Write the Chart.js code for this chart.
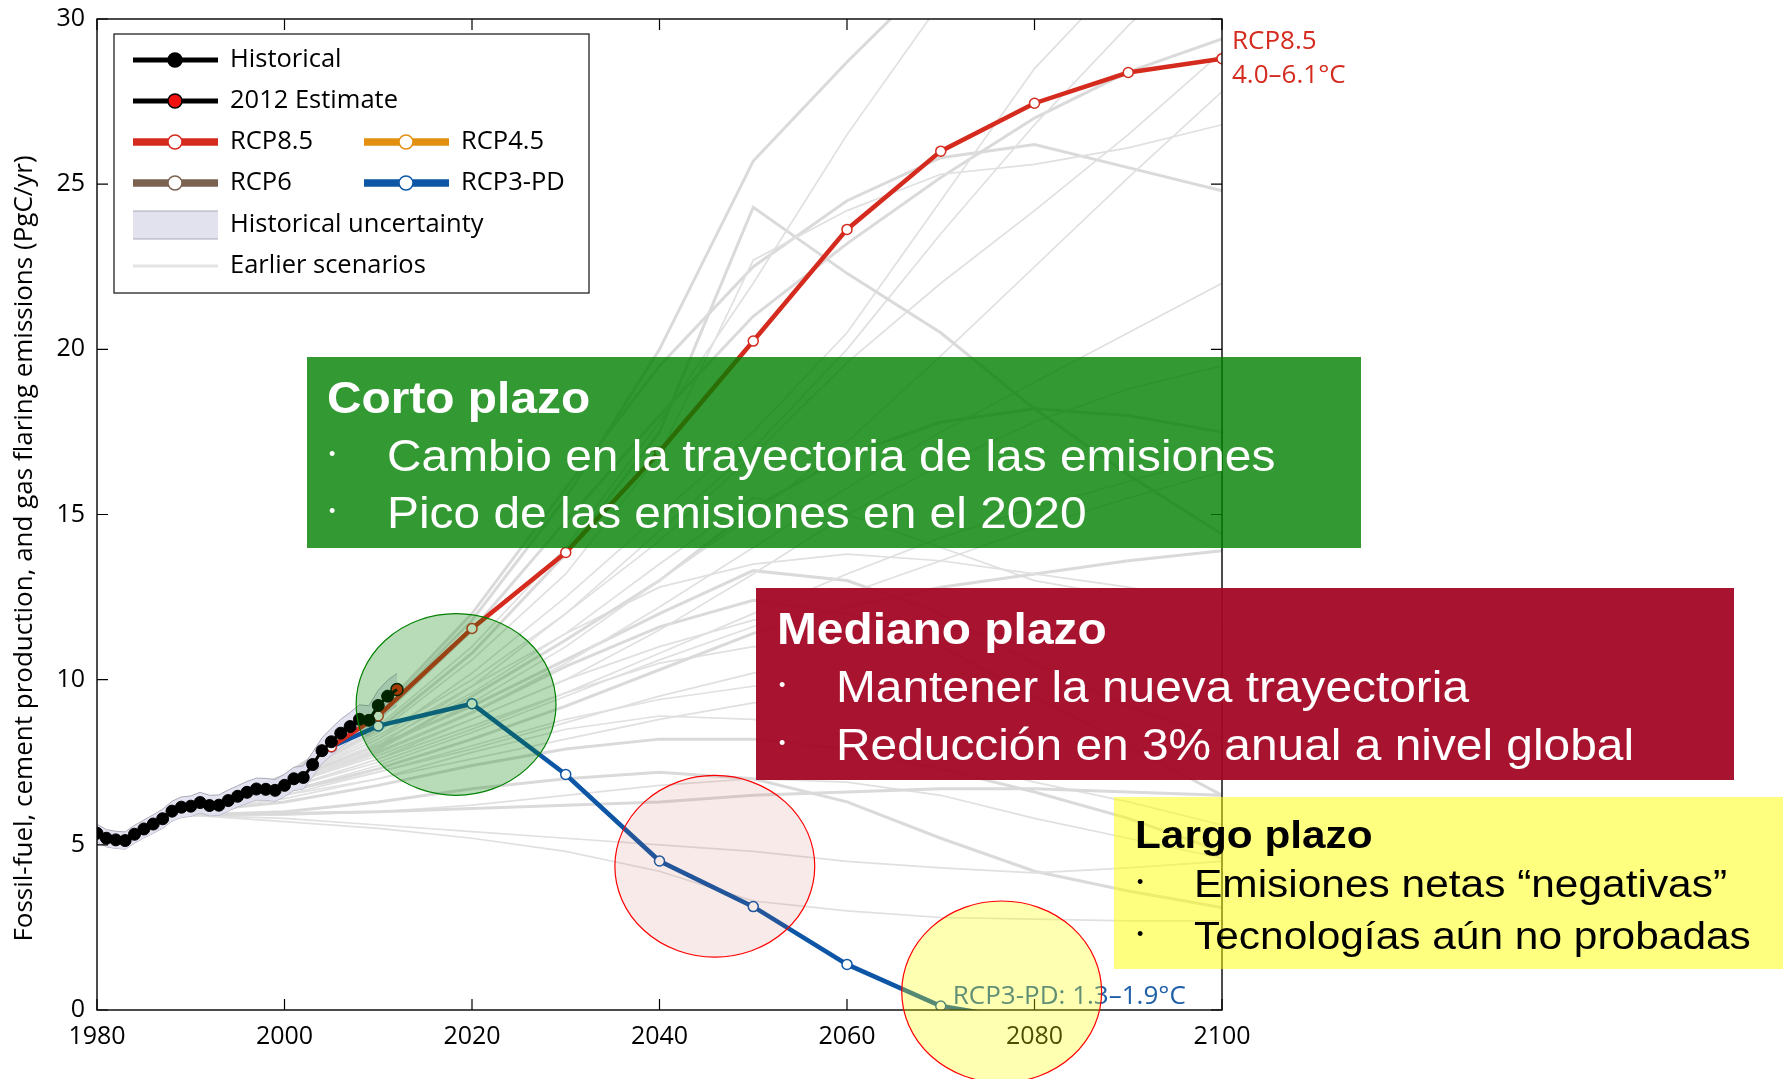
<!DOCTYPE html>
<html>
<head>
<meta charset="utf-8">
<script src="https://cdn.jsdelivr.net/npm/chart.js@4.4.0/dist/chart.umd.min.js"></script>
<style>
  body { margin: 0; background: #fff; }
  #wrap { position: relative; width: 1783px; height: 1079px; overflow: hidden; }
  .box { position: absolute; }
  .ln { position: absolute; white-space: nowrap; font-family: "Liberation Sans", Arial, sans-serif;
        transform: translateY(-50%) scaleX(1.1); transform-origin: left center; line-height: 1.15; }
  .t { font-weight: bold; }
  .dot { position: absolute; font-family: "Liberation Sans", Arial, sans-serif; font-size: 18px;
         transform: translateY(-50%); line-height: 1; }
</style>
</head>
<body>
<div id="wrap">
  <canvas id="chart" width="1783" height="1079"></canvas>

  <div class="box" style="left:307px;top:357px;width:1054px;height:191px;background:rgba(0,128,0,0.8);color:#fff">
    <div class="ln t" style="left:20px;top:41px;font-size:43.5px">Corto plazo</div>
    <div class="dot" style="left:22px;top:97px">•</div>
    <div class="ln" style="left:80px;top:99px;font-size:43.5px">Cambio en la trayectoria de las emisiones</div>
    <div class="dot" style="left:22px;top:154px">•</div>
    <div class="ln" style="left:80px;top:156px;font-size:43.5px">Pico de las emisiones en el 2020</div>
  </div>

  <div class="box" style="left:756px;top:588px;width:978px;height:192px;background:rgba(163,7,37,0.95);color:#fff">
    <div class="ln t" style="left:21px;top:41px;font-size:43.5px">Mediano plazo</div>
    <div class="dot" style="left:23px;top:97px">•</div>
    <div class="ln" style="left:80px;top:99px;font-size:43.5px">Mantener la nueva trayectoria</div>
    <div class="dot" style="left:23px;top:155px">•</div>
    <div class="ln" style="left:80px;top:157px;font-size:43.5px">Reducción en 3% anual a nivel global</div>
  </div>

  <div class="box" style="left:1114px;top:797px;width:669px;height:172px;background:rgba(255,255,0,0.5);color:#000">
    <div class="ln t" style="left:21px;top:38px;font-size:38.5px">Largo plazo</div>
    <div class="dot" style="left:23px;top:85px">•</div>
    <div class="ln" style="left:80px;top:87px;font-size:38.6px">Emisiones netas “negativas”</div>
    <div class="dot" style="left:23px;top:137px">•</div>
    <div class="ln" style="left:80px;top:139px;font-size:38.6px">Tecnologías aún no probadas</div>
  </div>
</div>

<script>
// Datos históricos (PgC/año)
const histYears = [1980, 1981, 1982, 1983, 1984, 1985, 1986, 1987, 1988, 1989,
                   1990, 1991, 1992, 1993, 1994, 1995, 1996, 1997, 1998, 1999,
                   2000, 2001, 2002, 2003, 2004, 2005, 2006, 2007, 2008, 2009,
                   2010, 2011, 2012];
const historical = [5.35, 5.2, 5.15, 5.13, 5.32, 5.48, 5.63, 5.79, 6.02, 6.14,
                    6.17, 6.28, 6.19, 6.2, 6.34, 6.47, 6.59, 6.69, 6.68, 6.65,
                    6.8, 7.0, 7.04, 7.43, 7.85, 8.12, 8.38, 8.58, 8.8, 8.77,
                    9.22, 9.5, 9.7];
const histUpper = [5.62, 5.46, 5.41, 5.39, 5.59, 5.75, 5.91, 6.08, 6.32, 6.45,
                   6.48, 6.59, 6.5, 6.51, 6.66, 6.79, 6.92, 7.02, 7.01, 6.98,
                   7.14, 7.35, 7.39, 7.8, 8.24, 8.53, 8.8, 9.01, 9.24, 9.21,
                   9.68, 9.98, 10.19];
const histLower = [5.08, 4.94, 4.89, 4.87, 5.05, 5.21, 5.35, 5.5, 5.72, 5.83,
                   5.86, 5.97, 5.88, 5.89, 6.02, 6.15, 6.26, 6.36, 6.35, 6.32,
                   6.46, 6.65, 6.69, 7.06, 7.46, 7.71, 7.96, 8.15, 8.36, 8.33,
                   8.76, 9.03, 9.22];
const estimateYear = 2012;
const estimate2012 = 9.7;

// Escenarios RCP
const rcpYears = [2005, 2010, 2020, 2030, 2040, 2050, 2060, 2070, 2080, 2090, 2100];
const rcp85 = [7.97, 8.9, 11.55, 13.85, 16.9, 20.25, 23.63, 26.0, 27.45, 28.38, 28.8];
const rcp3pd = [7.97, 8.6, 9.27, 7.13, 4.51, 3.13, 1.38, 0.12, -0.35, -0.45, -0.45];

// Escenarios anteriores
const scenYears = [1990, 2000, 2010, 2020, 2030, 2040, 2050, 2060, 2070, 2080, 2090, 2100];
const earlierScenarios = [
  [6.0, 7.0, 8.9, 11.8, 15.5, 20.0, 25.7, 28.7, 31.5, 33.5, 35, 36],
  [6.0, 6.9, 8.6, 11.0, 14.0, 17.8, 22.0, 26.5, 30.5, 33, 35, 36],
  [6.0, 6.9, 8.4, 10.6, 13.2, 16.8, 22.7, 24.2, 25.3, 25.6, 26.1, 26.8],
  [6.0, 6.9, 8.5, 10.8, 13.8, 17.5, 24.3, 22.3, 20.5, 18.2, 16.2, 14.4],
  [6.0, 6.8, 8.0, 9.8, 12.0, 14.5, 17.0, 20.0, 23.5, 26.8, 29.8, 32.5],
  [6.0, 6.9, 8.2, 10.2, 12.5, 15.0, 17.5, 20.5, 24.5, 28.5, 31.5, 34],
  [6.0, 7.0, 8.8, 11.5, 14.8, 18.0, 21.0, 23.2, 25.2, 27.0, 28.4, 29.4],
  [6.0, 6.8, 7.9, 9.3, 11.0, 13.0, 15.0, 17.2, 19.8, 22.5, 25.2, 27.8],
  [6.0, 6.9, 8.3, 10.0, 12.0, 14.2, 16.8, 19.6, 22.0, 24.2, 26.5, 29.0],
  [6.0, 7.1, 9.0, 12.0, 15.8, 19.5, 22.5, 24.5, 25.8, 26.2, 25.5, 24.8],
  [6.0, 6.8, 7.8, 9.0, 10.5, 12.2, 14.0, 15.8, 17.5, 19.0, 20.5, 22.0],
  [6.0, 6.7, 7.6, 8.8, 10.0, 11.5, 13.2, 15.0, 16.5, 17.8, 18.8, 19.5],
  [6.0, 6.8, 7.9, 9.5, 11.2, 13.0, 15.2, 16.8, 17.8, 18.2, 18.0, 17.5],
  [6.0, 6.7, 7.5, 8.5, 9.6, 10.8, 12.0, 13.2, 14.3, 15.2, 16.0, 16.8],
  [6.0, 6.9, 8.2, 9.8, 11.4, 12.8, 13.5, 13.8, 13.6, 13.2, 12.8, 12.3],
  [6.0, 6.6, 7.3, 8.2, 9.2, 10.3, 11.4, 12.2, 12.8, 13.2, 13.6, 13.9],
  [6.0, 6.8, 7.7, 8.8, 10.0, 11.0, 11.8, 12.0, 11.6, 11.0, 10.6, 10.2],
  [6.0, 6.6, 7.2, 7.9, 8.7, 9.5, 10.2, 10.8, 11.2, 11.5, 11.8, 12.0],
  [6.0, 6.9, 8.0, 9.2, 10.6, 12.0, 13.3, 13.0, 12.0, 10.5, 9.2, 8.2],
  [6.0, 6.7, 7.6, 8.6, 9.6, 10.5, 11.0, 10.8, 10.0, 9.0, 8.0, 7.0],
  [6.0, 6.5, 7.0, 7.6, 8.2, 8.8, 9.3, 9.6, 9.8, 9.9, 10.0, 10.1],
  [6.0, 6.8, 7.8, 9.0, 10.4, 11.6, 12.4, 12.0, 11.0, 9.5, 8.0, 6.5],
  [6.0, 6.6, 7.4, 8.4, 9.5, 10.6, 11.6, 12.6, 13.6, 14.6, 15.5, 16.3],
  [6.0, 6.9, 8.1, 9.6, 11.4, 13.5, 15.5, 15.0, 14.0, 13.0, 12.5, 11.8],
  [5.9, 5.95, 6.0, 6.1, 6.2, 6.3, 6.5, 6.6, 6.7, 6.7, 6.6, 6.5],
  [5.9, 5.8, 5.6, 5.4, 5.2, 5.0, 4.8, 4.5, 4.3, 4.15, 4.3, 4.5],
  [5.9, 5.9, 6.0, 6.2, 6.5, 6.8, 7.0, 6.9, 6.5, 5.8, 5.2, 4.6],
  [5.9, 6.0, 6.3, 6.7, 7.0, 7.2, 7.0, 6.3, 5.2, 4.2, 3.6, 3.1],
  [5.9, 5.7, 5.5, 5.2, 4.8, 4.2, 3.3, 3.0, 2.8, 2.75, 2.7, 2.7],
  [6.0, 6.4, 7.0, 7.8, 8.5, 8.9, 8.8, 8.3, 7.6, 6.9, 6.3, 5.6],
  [6.0, 6.3, 6.8, 7.4, 7.9, 8.2, 8.2, 7.9, 7.3, 6.6, 5.8, 4.8],
  [6.0, 6.5, 7.2, 8.0, 8.8, 9.4, 9.8, 9.8, 9.5, 9.0, 8.6, 8.3]
];

const xTicks = [1980, 2000, 2020, 2040, 2060, 2080, 2100];
const yTicks = [0, 5, 10, 15, 20, 25, 30];

const C_RCP85 = '#d52b1e';
const C_RCP45 = '#e38f10';
const C_RCP6 = '#7a6150';
const C_RCP3 = '#0d56a6';
const FONT = '"Open Sans", "Noto Sans", sans-serif';

function pts(xs, ys) {
    return xs.map((x, i) => ({ x: x, y: ys[i] }));
}

const datasets = [];

// Histórico
datasets.push({
    label: 'Historical',
    data: pts(histYears, historical),
    borderColor: '#000',
    borderWidth: 3,
    pointRadius: histYears.map(y => y === estimateYear ? 0 : 6),
    pointBackgroundColor: '#000',
    pointBorderColor: '#000',
    pointBorderWidth: 1,
    order: 0
});
datasets.push({
    label: '2012 Estimate',
    data: [{ x: estimateYear, y: estimate2012 }],
    showLine: false,
    pointRadius: 6,
    pointBackgroundColor: '#e8200c',
    pointBorderColor: '#000',
    pointBorderWidth: 1.5,
    order: 0
});
datasets.push({
    label: 'RCP8.5',
    data: pts(rcpYears, rcp85),
    borderColor: C_RCP85,
    borderWidth: 4.5,
    pointRadius: 5,
    pointBackgroundColor: '#fff',
    pointBorderColor: C_RCP85,
    pointBorderWidth: 1.5,
    order: 1
});
datasets.push({
    label: 'RCP3-PD',
    data: pts(rcpYears, rcp3pd),
    borderColor: C_RCP3,
    borderWidth: 4.5,
    pointRadius: 5,
    pointBackgroundColor: '#fff',
    pointBorderColor: C_RCP3,
    pointBorderWidth: 1.5,
    order: 1
});
// Incertidumbre histórica
datasets.push({
    label: 'upper',
    data: pts(histYears, histUpper),
    borderColor: '#a9a9b6',
    borderWidth: 1,
    pointRadius: 0,
    backgroundColor: 'rgba(222,222,238,0.85)',
    fill: '+1',
    order: 3
});
datasets.push({
    label: 'lower',
    data: pts(histYears, histLower),
    borderColor: '#a9a9b6',
    borderWidth: 1,
    pointRadius: 0,
    fill: false,
    order: 3
});
earlierScenarios.forEach((s, i) => {
    datasets.push({
        label: 'scen' + i,
        data: pts(scenYears, s),
        borderColor: i % 3 === 0 ? '#dadada' : '#e0e0e0',
        borderWidth: i % 3 === 0 ? 3 : 1.7,
        pointRadius: 0,
        fill: false,
        order: 10
    });
});

// Anotaciones, marco y leyenda
const overlay = {
    id: 'overlay',
    afterDatasetsDraw(chart) {
        const ctx = chart.ctx;
        const a = chart.chartArea;
        const xs = chart.scales.x, ys = chart.scales.y;
        ctx.save();

        // marco con ticks hacia adentro
        ctx.strokeStyle = '#000';
        ctx.lineWidth = 1.4;
        ctx.strokeRect(a.left, a.top, a.right - a.left, a.bottom - a.top);
        ctx.lineWidth = 1.2;
        ctx.beginPath();
        xTicks.forEach(t => {
            const px = xs.getPixelForValue(t);
            ctx.moveTo(px, a.bottom); ctx.lineTo(px, a.bottom - 11);
            ctx.moveTo(px, a.top); ctx.lineTo(px, a.top + 11);
        });
        yTicks.forEach(t => {
            const py = ys.getPixelForValue(t);
            ctx.moveTo(a.left, py); ctx.lineTo(a.left + 11, py);
            ctx.moveTo(a.right, py); ctx.lineTo(a.right - 11, py);
        });
        ctx.stroke();

        // título del eje y
        ctx.save();
        ctx.translate(25, (a.top + a.bottom) / 2 + 34);
        ctx.rotate(-Math.PI / 2);
        ctx.font = '26px ' + FONT;
        ctx.fillStyle = '#000';
        ctx.textAlign = 'center';
        ctx.textBaseline = 'middle';
        ctx.fillText('Fossil-fuel, cement production, and gas flaring emissions (PgC/yr)', 0, 0);
        ctx.restore();

        // etiquetas RCP
        ctx.font = '26px ' + FONT;
        ctx.textBaseline = 'middle';
        ctx.textAlign = 'left';
        const yEnd = ys.getPixelForValue(rcp85[rcp85.length - 1]);
        ctx.fillStyle = C_RCP85;
        ctx.fillText('RCP8.5', a.right + 10, yEnd - 17);
        ctx.fillText('4.0–6.1°C', a.right + 10, yEnd + 17);
        ctx.fillStyle = '#1d5fa8';
        ctx.fillText('RCP3-PD: 1.3–1.9°C', xs.getPixelForValue(2070) + 12, ys.getPixelForValue(0) - 13);

        // círculos
        const circles = [
            { cx: 2018.3, cy: 9.25, fill: 'rgba(0,128,0,0.28)', stroke: '#008000' },
            { cx: 2045.9, cy: 4.35, fill: 'rgba(192,80,77,0.12)', stroke: '#ff0000' },
            { cx: 2076.5, cy: 0.55, fill: 'rgba(255,255,0,0.3)', stroke: '#ff0000' }
        ];
        circles.forEach(c => {
            const px = xs.getPixelForValue(c.cx), py = ys.getPixelForValue(c.cy);
            const rx = xs.getPixelForValue(c.cx + 10.66) - px;
            const ry = py - ys.getPixelForValue(c.cy + 2.75);
            ctx.beginPath();
            ctx.ellipse(px, py, rx, ry, 0, 0, Math.PI * 2);
            ctx.fillStyle = c.fill;
            ctx.fill();
            ctx.strokeStyle = c.stroke;
            ctx.lineWidth = 1.2;
            ctx.stroke();
        });

        // leyenda
        const L = a.left + 17, T = a.top + 15, W = 475, H = 259;
        ctx.fillStyle = '#fff';
        ctx.fillRect(L, T, W, H);
        ctx.strokeStyle = '#222';
        ctx.lineWidth = 1.3;
        ctx.strokeRect(L, T, W, H);
        const rows = [26, 67, 108, 149, 191, 232].map(d => T + d);
        const col1 = L + 19, col2 = L + 250;
        function sample(x0, yy, color, width, mFill, mStroke) {
            ctx.beginPath();
            ctx.moveTo(x0, yy); ctx.lineTo(x0 + 85, yy);
            ctx.strokeStyle = color; ctx.lineWidth = width; ctx.stroke();
            ctx.beginPath();
            ctx.arc(x0 + 42, yy, 7, 0, Math.PI * 2);
            ctx.fillStyle = mFill; ctx.fill();
            ctx.strokeStyle = mStroke; ctx.lineWidth = 1.5; ctx.stroke();
        }
        sample(col1, rows[0], '#000', 5, '#000', '#000');
        sample(col1, rows[1], '#000', 5, '#f01010', '#000');
        sample(col1, rows[2], C_RCP85, 7.5, '#fff', C_RCP85);
        sample(col2, rows[2], C_RCP45, 7.5, '#fff', C_RCP45);
        sample(col1, rows[3], C_RCP6, 7.5, '#fff', C_RCP6);
        sample(col2, rows[3], C_RCP3, 7.5, '#fff', C_RCP3);
        ctx.fillStyle = '#e2e2ef';
        ctx.fillRect(col1, rows[4] - 14, 85, 28);
        ctx.strokeStyle = '#a9a9b6'; ctx.lineWidth = 1.2;
        ctx.beginPath();
        ctx.moveTo(col1, rows[4] - 14); ctx.lineTo(col1 + 85, rows[4] - 14);
        ctx.moveTo(col1, rows[4] + 14); ctx.lineTo(col1 + 85, rows[4] + 14);
        ctx.stroke();
        ctx.beginPath();
        ctx.moveTo(col1, rows[5]); ctx.lineTo(col1 + 85, rows[5]);
        ctx.strokeStyle = '#e4e4e4'; ctx.lineWidth = 3; ctx.stroke();

        ctx.fillStyle = '#000';
        ctx.font = '25.5px ' + FONT;
        const tx1 = col1 + 97, tx2 = col2 + 97;
        ctx.fillText('Historical', tx1, rows[0]);
        ctx.fillText('2012 Estimate', tx1, rows[1]);
        ctx.fillText('RCP8.5', tx1, rows[2]);
        ctx.fillText('RCP4.5', tx2, rows[2]);
        ctx.fillText('RCP6', tx1, rows[3]);
        ctx.fillText('RCP3-PD', tx2, rows[3]);
        ctx.fillText('Historical uncertainty', tx1, rows[4]);
        ctx.fillText('Earlier scenarios', tx1, rows[5]);
        ctx.restore();
    }
};

const ctx = document.getElementById('chart').getContext('2d');
const chart = new Chart(ctx, {
    type: 'line',
    data: { datasets: datasets },
    options: {
        responsive: false,
        animation: false,
        devicePixelRatio: 1,
        layout: { padding: { left: 0, top: 19, right: 561, bottom: 0 } },
        plugins: { legend: { display: false }, tooltip: { enabled: false } },
        elements: { line: { tension: 0 } },
        scales: {
            x: {
                type: 'linear',
                min: 1980,
                max: 2100,
                afterFit: s => { s.height = 69; },
                afterBuildTicks: s => { s.ticks = xTicks.map(v => ({ value: v })); },
                grid: { display: false, drawTicks: true, tickLength: 12 },
                border: { display: false },
                ticks: { color: '#000', padding: 0, font: { family: FONT, size: 25 },
                         callback: v => String(v) }
            },
            y: {
                min: 0,
                max: 30,
                afterFit: s => { s.width = 97; },
                afterBuildTicks: s => { s.ticks = yTicks.map(v => ({ value: v })); },
                grid: { display: false, drawTicks: true, tickLength: 12 },
                border: { display: false },
                ticks: { color: '#000', padding: 0, font: { family: FONT, size: 25 },
                         callback: v => String(v) }
            }
        }
    },
    plugins: [overlay]
});
</script>
</body>
</html>
